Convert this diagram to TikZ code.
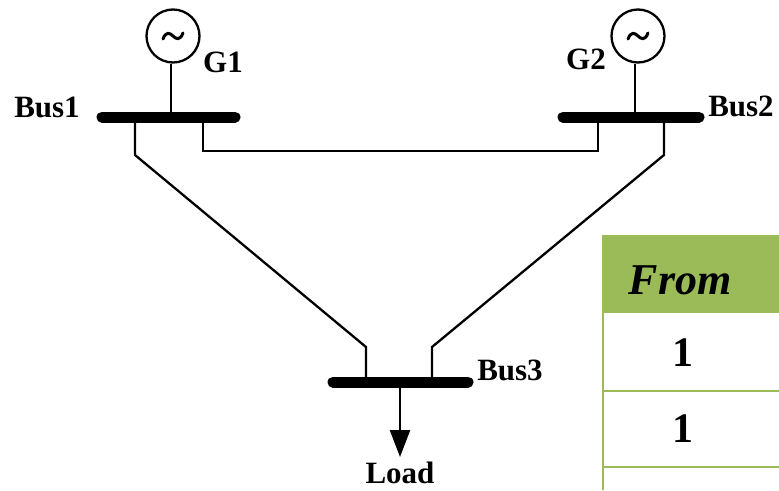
\documentclass[tikz,border=0pt]{standalone}
\usepackage{fontspec}
\setmainfont{Liberation Serif}
\usetikzlibrary{arrows.meta}
\definecolor{tgreen}{HTML}{9BBB59}
\tikzset{
  line/.style={line width=2.3pt, line cap=butt, line join=miter},
  busbar/.style={line width=11pt, line cap=round},
  gen/.style={circle, draw, line width=2.3pt, minimum size=53pt, inner sep=0pt},
  wave/.style={line width=3pt, line cap=round},
  lbl/.style={font=\fontsize{31}{31}\selectfont\bfseries, inner sep=0pt},
  cell/.style={font=\fontsize{42}{42}\selectfont\bfseries, inner sep=0pt},
  grid/.style={draw=tgreen, line width=2.5pt}
}
\newcommand{\tildeat}[1]{%
  \draw[wave] ([shift={(-10,3)}]#1) .. controls ([shift={(-7,-5)}]#1) and ([shift={(-3,-3)}]#1) .. (#1)
    .. controls ([shift={(3,3)}]#1) and ([shift={(7,5)}]#1) .. ([shift={(10,-3)}]#1);}
\begin{document}
\begin{tikzpicture}[x=1pt,y=-1pt]
\useasboundingbox (0,0) rectangle (779,490);
% buses
\coordinate (b1l) at (102,117); \coordinate (b1r) at (235,117);
\coordinate (b2l) at (563,117); \coordinate (b2r) at (699,117);
\coordinate (b3l) at (333,382); \coordinate (b3r) at (468,382);
\draw[busbar] (b1l) -- (b1r);
\draw[busbar] (b2l) -- (b2r);
\draw[busbar] (b3l) -- (b3r);
% generators
\node[gen] (g1) at (173,36) {};
\node[gen] (g2) at (638,36) {};
\tildeat{g1.center}
\tildeat{g2.center}
\draw[line] (g1.south -| 171,0) -- (171,117);
\draw[line] (g2.south -| 635,0) -- (635,117);
% line 1-2
\draw[line] (203,117) -- (203,151) -- (598,151) -- (598,117);
% line 1-3
\draw[line] (135,117) -- (135,155) -- (366,347) -- (366,382);
% line 2-3
\draw[line] (664,117) -- (664,155) -- (432,347) -- (432,382);
% load
\coordinate (ld) at (400,457);
\draw[line, -{Triangle[width=20pt,length=27pt]}] (400,382) -- (ld);
\node[lbl] (load) at (400,473) {Load};
% labels
\node[lbl] (bus1) at (47,107) {Bus1};
\node[lbl] (bus2) at (741,106) {Bus2};
\node[lbl] (bus3) at (510,370) {Bus3};
\node[lbl] (g1l) at (223,62) {G1};
\node[lbl] (g2l) at (586,59) {G2};
% table
\fill[tgreen] (602,235) rectangle (779,313);
\draw[grid] (603,313) -- (603,490);
\draw[grid] (603,391) -- (779,391);
\draw[grid] (603,467) -- (779,467);
\node[cell, font=\fontsize{44}{44}\selectfont\bfseries] (from) at (680,280) {\itshape From};
\node[cell] (c1) at (683,353) {1};
\node[cell] (c2) at (683,429) {1};
\end{tikzpicture}
\end{document}
